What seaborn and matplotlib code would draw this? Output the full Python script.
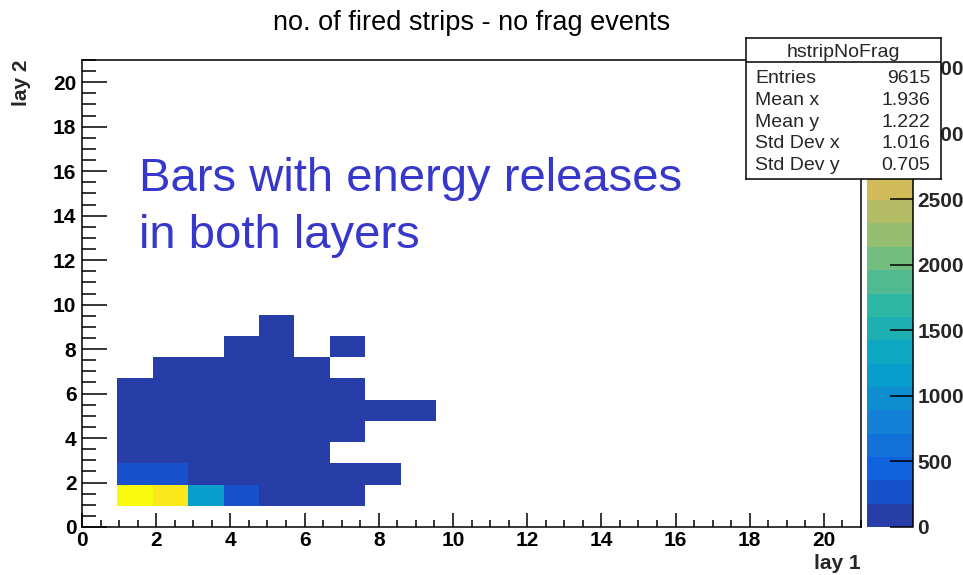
import numpy as np
import matplotlib
matplotlib.use("Agg")
import matplotlib.pyplot as plt
from matplotlib.colors import LinearSegmentedColormap, ListedColormap
from matplotlib.ticker import MultipleLocator
import seaborn as sns

# Fired-strip multiplicities (layer 1, layer 2) and event counts per cell
lay1 = [1, 2, 3, 4, 5, 6, 7,
        1, 2, 3, 4, 5, 6, 7, 8,
        1, 2, 3, 4, 5, 6,
        1, 2, 3, 4, 5, 6, 7,
        1, 2, 3, 4, 5, 6, 7, 8, 9,
        1, 2, 3, 4, 5, 6, 7,
        2, 3, 4, 5, 6,
        4, 5, 7,
        5]
lay2 = [1, 1, 1, 1, 1, 1, 1,
        2, 2, 2, 2, 2, 2, 2, 2,
        3, 3, 3, 3, 3, 3,
        4, 4, 4, 4, 4, 4, 4,
        5, 5, 5, 5, 5, 5, 5, 5, 5,
        6, 6, 6, 6, 6, 6, 6,
        7, 7, 7, 7, 7,
        8, 8, 8,
        9]
counts = [3560, 3300, 1150, 300, 90, 30, 8,
          300, 280, 120, 70, 35, 12, 4, 2,
          40, 60, 45, 30, 15, 5,
          15, 25, 28, 22, 12, 5, 2,
          6, 10, 12, 10, 7, 4, 2, 1, 1,
          2, 4, 5, 5, 4, 2, 1,
          1, 2, 2, 2, 1,
          1, 1, 1,
          1]

title = "no. of fired strips - no frag events"
note_lines = ["Bars with energy releases", "in both layers"]
stats_name = "hstripNoFrag"
stats_labels = ["Entries", "Mean x", "Mean y", "Std Dev x", "Std Dev y"]
stats_values = ["9615", "1.936", "1.222", "1.016", "0.705"]
z_ticks = [0, 500, 1000, 1500, 2000, 2500, 3000, 3500]

sns.set_style("white")
plt.rcParams["font.family"] = ["Liberation Sans", "DejaVu Sans"]

# "Bird" palette, sampled into 20 contour bands
stops = [0.0, 0.125, 0.25, 0.375, 0.5, 0.625, 0.75, 0.875, 1.0]
red = [0.2082, 0.0592, 0.0780, 0.0232, 0.1802, 0.5301, 0.8186, 0.9956, 0.9764]
green = [0.1664, 0.3599, 0.5041, 0.6419, 0.7178, 0.7492, 0.7328, 0.7862, 0.9832]
blue = [0.5293, 0.8684, 0.8385, 0.7914, 0.6425, 0.4662, 0.3499, 0.1968, 0.0539]
bird = LinearSegmentedColormap.from_list(
    "bird", list(zip(stops, zip(red, green, blue))), N=255)
n_levels = 20
bands = ListedColormap(
    [bird(int((k + 0.99) * 255 / n_levels)) for k in range(n_levels)])

W, H = 963, 575
fig = plt.figure(figsize=(W / 100, H / 100), dpi=100)
fig.patch.set_facecolor("white")

left, right, top, bottom = 82, 861, 60, 527
ax = fig.add_axes([left / W, 1 - bottom / H, (right - left) / W, (bottom - top) / H])
cax = fig.add_axes([867 / W, 1 - bottom / H, 46 / W, (bottom - top) / H])

sns.histplot(x=lay1, y=lay2, weights=counts, bins=22,
             binrange=((0, 21), (0, 21)), cmap=bands,
             cbar=True, cbar_ax=cax, ax=ax)

ax.set_axisbelow(False)
ax.set_xlim(0, 21)
ax.set_ylim(0, 21)
ax.set_facecolor("white")
ax.xaxis.set_major_locator(MultipleLocator(2))
ax.yaxis.set_major_locator(MultipleLocator(2))
ax.xaxis.set_minor_locator(MultipleLocator(0.5))
ax.yaxis.set_minor_locator(MultipleLocator(0.5))
ax.tick_params(axis="both", which="both", direction="in", top=False,
               right=False, bottom=True, left=True, width=1.1,
               color="black", labelsize=15, labelcolor="black")
ax.tick_params(axis="x", which="major", length=10, pad=3)
ax.tick_params(axis="x", which="minor", length=5)
ax.tick_params(axis="y", which="major", length=18, pad=4)
ax.tick_params(axis="y", which="minor", length=10)
for lab in ax.get_xticklabels() + ax.get_yticklabels():
    lab.set_fontweight("bold")
for sp in ax.spines.values():
    sp.set_visible(True)
    sp.set_color("black")
    sp.set_linewidth(1.1)

ax.set_xlabel("lay 1", fontsize=15, fontweight="bold", ha="right")
ax.xaxis.set_label_coords(1.0, -0.058)
ax.set_ylabel("lay 2", fontsize=15, fontweight="bold", ha="right")
ax.yaxis.set_label_coords(-0.066, 1.0)

# Colour scale axis: labels on the right, tick marks drawn inward
mesh = ax.collections[0]
cb = mesh.colorbar
if cb is not None:
    cb.outline.set_visible(False)
    cb.set_ticks(z_ticks)
cax.set_ylim(0, max(counts))
cax.set_yticks(z_ticks)
cax.set_yticklabels([str(t) for t in z_ticks])
cax.tick_params(axis="y", which="both", left=False, right=True,
                labelleft=False, labelright=True, length=0, pad=3,
                labelsize=15)
cax.tick_params(axis="x", bottom=False, top=False, labelbottom=False)
for lab in cax.get_yticklabels():
    lab.set_fontweight("bold")
for sp in cax.spines.values():
    sp.set_visible(False)
cax.hlines(z_ticks, 0.5, 1.0, transform=cax.get_yaxis_transform(),
           colors="black", lw=1.1, zorder=5, clip_on=False)
cax.plot([1, 1], [0, 1], transform=cax.transAxes, color="black",
         lw=1.1, clip_on=False, zorder=5)

# Title and annotation
fig.text(472 / W, 1 - 29.5 / H, title, ha="center", va="baseline",
         fontsize=19.5, color="black")
note_color = "#3737CB"
fig.text(139 / W, 1 - 191 / H, note_lines[0], ha="left", va="baseline",
         fontsize=34, color=note_color)
fig.text(139 / W, 1 - 248 / H, note_lines[1], ha="left", va="baseline",
         fontsize=34, color=note_color)

# Statistics box
bx0, bx1, by0, by1 = 746, 941, 38, 179
sax = fig.add_axes([bx0 / W, 1 - by1 / H, (bx1 - bx0) / W, (by1 - by0) / H])
sax.set_zorder(20)
sax.set_facecolor("white")
sax.set_xlim(bx0, bx1)
sax.set_ylim(by1, by0)
sax.set_xticks([])
sax.set_yticks([])
for sp in sax.spines.values():
    sp.set_color("black")
    sp.set_linewidth(1.1)
sax.plot([bx0, bx1], [62, 62], color="black", lw=1.1)
sax.text((bx0 + bx1) / 2, 56.7, stats_name, ha="center", va="baseline",
         fontsize=14)
for i, (lab, val) in enumerate(zip(stats_labels, stats_values)):
    yb = 83.3 + i * 21.7
    sax.text(755, yb, lab, ha="left", va="baseline", fontsize=14)
    sax.text(930, yb, val, ha="right", va="baseline", fontsize=14)

fig.savefig("out.png", dpi=100, facecolor="white")
